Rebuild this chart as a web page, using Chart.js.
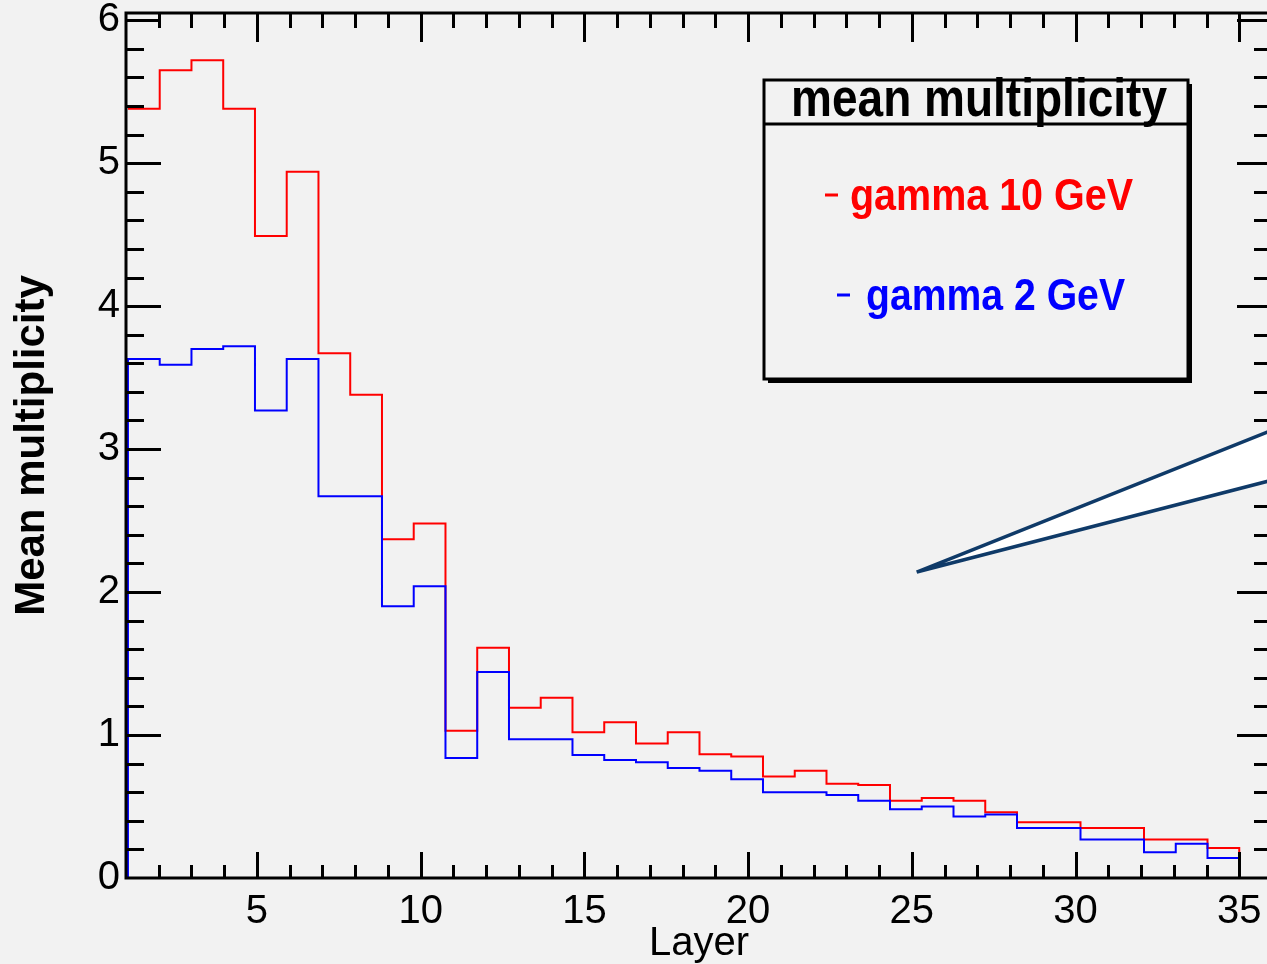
<!DOCTYPE html>
<html>
<head>
<meta charset="utf-8">
<script src="https://cdn.jsdelivr.net/npm/chart.js@4.4.1/dist/chart.umd.min.js"></script>
<style>
  html, body { margin: 0; padding: 0; background: #f2f2f2; overflow: hidden; }
  #wrap { position: relative; width: 1276px; height: 964px; }
</style>
</head>
<body>
<div id="wrap"><canvas id="mult"></canvas></div>
<script>
// layer number of each histogram bin
const layers = [1, 2, 3, 4, 5, 6, 7, 8, 9, 10, 11, 12, 13, 14, 15, 16, 17, 18,
                19, 20, 21, 22, 23, 24, 25, 26, 27, 28, 29, 30, 31, 32, 33, 34, 35];
// mean multiplicity per layer
const gamma10 = [5.38, 5.65, 5.72, 5.38, 4.49, 4.94, 3.67, 3.38, 2.37, 2.48,
                 1.03, 1.61, 1.19, 1.26, 1.02, 1.09, 0.94, 1.02, 0.865, 0.85,
                 0.71, 0.75, 0.66, 0.65, 0.54, 0.56, 0.54, 0.46, 0.39, 0.39,
                 0.35, 0.35, 0.27, 0.27, 0.21];
const gamma2 = [3.63, 3.59, 3.70, 3.72, 3.27, 3.63, 2.67, 2.67, 1.90, 2.04,
                0.84, 1.44, 0.97, 0.97, 0.86, 0.825, 0.81, 0.77, 0.75, 0.69,
                0.60, 0.60, 0.58, 0.54, 0.48, 0.50, 0.43, 0.445, 0.35, 0.35,
                0.27, 0.27, 0.18, 0.24, 0.14];
const seriesNames = ['gamma 10 GeV', 'gamma 2 GeV'];
const legendTitle = 'mean multiplicity';
const xTicks = [5, 10, 15, 20, 25, 30, 35];
const yTicks = [0, 1, 2, 3, 4, 5, 6];

const FONT = "'Liberation Sans Narrow', 'Liberation Sans', Arial, sans-serif";

// bins run from just right of the axis up to layer 35
const binLo = 1.06, binHi = 35;
const binW = (binHi - binLo) / layers.length;

function histPoints(vals, fromZero) {
  const pts = [];
  if (fromZero) pts.push({x: binLo, y: 0});
  layers.forEach((l, i) => pts.push({x: binLo + (l - 1) * binW, y: vals[i]}));
  pts.push({x: binHi, y: 0});
  pts.push({x: 36, y: 0});
  return pts;
}

// box with inward ticks on all four sides
const frame = {
  id: 'frame',
  afterDatasetsDraw(chart) {
    const {ctx, chartArea: a, scales: {x, y}} = chart;
    ctx.save();
    ctx.strokeStyle = '#000';
    ctx.lineWidth = 3;
    ctx.beginPath();
    for (let v = 2; v <= 35; v++) {
      const px = Math.round(x.getPixelForValue(v)) + 0.5;
      const major = v % 5 === 0;
      ctx.moveTo(px, a.bottom); ctx.lineTo(px, a.bottom - (major ? 26 : 13));
      ctx.moveTo(px, a.top); ctx.lineTo(px, a.top + (major ? 29 : 15));
    }
    for (let k = 1; k <= 30; k++) {
      const py = Math.round(y.getPixelForValue(k / 5)) + 0.5;
      const len = k % 5 === 0 ? 35 : 18;
      ctx.moveTo(a.left, py); ctx.lineTo(a.left + len, py);
      ctx.moveTo(a.right, py); ctx.lineTo(a.right - len, py);
    }
    ctx.stroke();
    ctx.strokeRect(a.left, a.top, a.right - a.left, a.bottom - a.top);
    ctx.restore();
  }
};

// ROOT style legend box and the slide's callout wedge
const extras = {
  id: 'extras',
  afterDraw(chart) {
    const {ctx, scales: {x, y}} = chart;
    const ds = chart.data.datasets;
    const L = 764, T = 80, R = 1188, B = 379;
    ctx.save();
    ctx.fillStyle = '#000';
    ctx.fillRect(L + 4, T + 4, R - L, B - T);
    ctx.fillStyle = '#f2f2f2';
    ctx.fillRect(L, T, R - L, B - T);
    ctx.strokeStyle = '#000';
    ctx.lineWidth = 3;
    ctx.strokeRect(L, T, R - L, B - T);
    ctx.beginPath();
    ctx.moveTo(L, 124); ctx.lineTo(R, 124);
    ctx.stroke();

    ctx.fillStyle = '#000';
    ctx.textAlign = 'center';
    ctx.textBaseline = 'alphabetic';
    ctx.font = 'bold 54px ' + FONT;
    ctx.fillText(legendTitle, 979, 116, 376);

    const rows = [{mark: 825, text: 850, base: 210, w: 283},
                  {mark: 837, text: 866, base: 310, w: 259}];
    ctx.textAlign = 'left';
    ctx.font = 'bold 44px ' + FONT;
    rows.forEach((r, i) => {
      ctx.strokeStyle = ds[i].borderColor;
      ctx.lineWidth = 3;
      ctx.beginPath();
      ctx.moveTo(r.mark, r.base - 15); ctx.lineTo(r.mark + 13, r.base - 15);
      ctx.stroke();
      ctx.fillStyle = ds[i].borderColor;
      ctx.fillText(ds[i].label, r.text, r.base, r.w);
    });

    // callout wedge
    const tip = [x.getPixelForValue(25.15), y.getPixelForValue(2.14)];
    const up = [x.getPixelForValue(36.3), y.getPixelForValue(3.16)];
    const lo = [x.getPixelForValue(36.3), y.getPixelForValue(2.80)];
    ctx.fillStyle = '#ffffff';
    ctx.beginPath();
    ctx.moveTo(tip[0], tip[1]); ctx.lineTo(up[0], up[1]); ctx.lineTo(lo[0], lo[1]);
    ctx.closePath();
    ctx.fill();
    ctx.strokeStyle = '#0f3a68';
    ctx.lineWidth = 3.5;
    ctx.lineJoin = 'miter';
    ctx.beginPath();
    ctx.moveTo(up[0], up[1]); ctx.lineTo(tip[0], tip[1]); ctx.lineTo(lo[0], lo[1]);
    ctx.stroke();
    ctx.restore();
  }
};

new Chart(document.getElementById('mult'), {
  type: 'line',
  data: {
    datasets: [{
        label: seriesNames[0],
        data: histPoints(gamma10, false),
        borderColor: '#ff0000',
        borderWidth: 2,
        stepped: 'before',
        fill: false,
        order: 1
      }, {
        label: seriesNames[1],
        data: histPoints(gamma2, true),
        borderColor: '#0000ff',
        borderWidth: 2,
        stepped: 'before',
        fill: false,
        order: 0
      }
    ]
  },
  options: {
    responsive: true,
    maintainAspectRatio: false,
    animation: false,
    layout: { padding: { top: 13, right: 4, left: 0, bottom: 0 } },
    elements: { point: { radius: 0, hoverRadius: 0 } },
    plugins: { legend: { display: false }, tooltip: { enabled: false } },
    scales: {
      x: {
        type: 'linear', min: 1, max: 36,
        afterBuildTicks: s => { s.ticks = xTicks.map(v => ({value: v})); },
        afterFit: s => { s.height = 86; s.paddingLeft = 0; s.paddingRight = 0; },
        grid: { display: false, drawTicks: false },
        border: { display: false },
        ticks: { color: '#000', font: { family: FONT, size: 40 }, padding: 10, maxRotation: 0, autoSkip: false },
        title: { display: true, text: 'Layer', color: '#000',
                 font: { family: FONT, size: 40, lineHeight: 1 }, padding: { top: 0, bottom: 0 } }
      },
      y: {
        type: 'linear', min: 0, max: 6.05,
        afterBuildTicks: s => { s.ticks = yTicks.map(v => ({value: v})); },
        afterFit: s => { s.width = 126; s.paddingTop = 0; s.paddingBottom = 0; },
        grid: { display: false, drawTicks: false },
        border: { display: false },
        ticks: { color: '#000', font: { family: FONT, size: 40 }, padding: 6 },
        title: { display: true, text: 'Mean multiplicity', color: '#000',
                 font: { family: FONT, size: 42, weight: 'bold', lineHeight: 1 }, padding: { top: 11, bottom: 0 } }
      }
    }
  },
  plugins: [frame, extras]
});
</script>
</body>
</html>
